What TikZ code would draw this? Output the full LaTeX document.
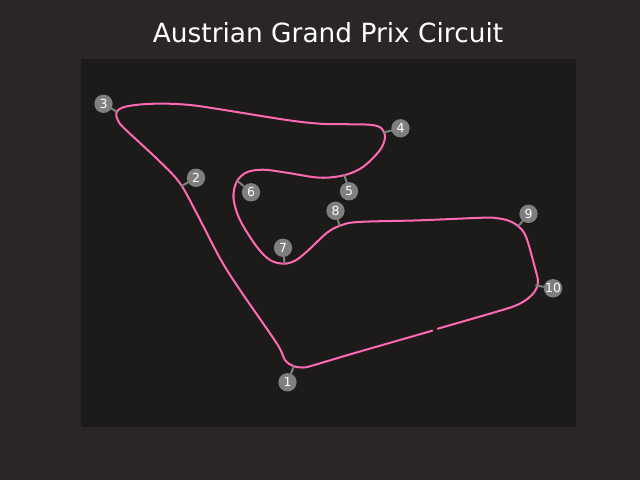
\documentclass[tikz,border=0pt]{standalone}
\usepackage{fontspec}
\setmainfont{DejaVu Sans}
\definecolor{figbg}{HTML}{2A2626}
\definecolor{axbg}{HTML}{1C1B1A}
\definecolor{trackpink}{HTML}{FF69B4}
\definecolor{markgray}{HTML}{7F7F7F}
\tikzset{
  track/.style={trackpink,line width=1.45pt,line cap=round,line join=round},
  leader/.style={markgray,line width=1.45pt},
  turn/.style={circle,fill=markgray,text=white,inner sep=0pt,minimum size=13.2pt,font=\fontsize{9}{9}\selectfont}
}
\begin{document}
\begin{tikzpicture}[line cap=round,line join=round,x=0.72pt,y=-0.72pt]
\fill[figbg] (0,0) rectangle (640,480);
\fill[axbg] (81,59) rectangle (576,427);
\node[text=white,font=\fontsize{19}{19}\selectfont] (title) at (328,33) {Austrian Grand Prix Circuit};
\draw[track] plot[smooth,tension=0.55] coordinates {(437.7,328.7) (500,310.7) (517,305) (528,298.5) (535,291) (538,282) (535,268) (526,236.7) (518,226) (508,220.5) (497,218.2) (483,217.7) (420,220.3) (358,222) (340,225.7) (326.7,233) (306.7,251.7) (295,260.7) (283.3,263.7) (270,260) (256.7,246.7) (240,220) (233.5,198) (236.7,181.7) (246.7,172.3) (263.3,169.7) (286.7,172.7) (320,177.7) (345,175) (363.3,166.7) (380,150) (385,137) (381,128) (370,124.8) (345,124.2) (320,123.7) (286.7,120) (220,109.3) (190,105) (163.3,103.6) (140,104.5) (123.3,107.3) (116.3,112.5) (118,120.5) (125,129) (160,161.7) (180,183.3) (196.7,213.3) (220,258.3) (240,290) (276.7,343.3) (285,360) (293.3,366) (303.3,367.5) (313.3,365.3) (353,353.5) (432.3,330.7)};
\foreach \n/\x/\y/\ex/\ey in {1/287.5/382.3/294/366,2/196/177.8/181.7/186,3/103.5/103.8/116.5/111.5,4/400.5/128.3/383.5/132.5,5/349/191.3/344.5/175,6/251/192.3/237.5/181,7/283/247.8/284.5/263.5,8/335.5/210.8/339.5/226,9/528.5/213.8/518.5/226,10/553/288.3/536/285.5}
{
\coordinate (e\n) at (\ex,\ey);
\node[turn] (t\n) at (\x,\y) {\n};
\draw[leader] (e\n)--(t\n);
}
\end{tikzpicture}
\end{document}
